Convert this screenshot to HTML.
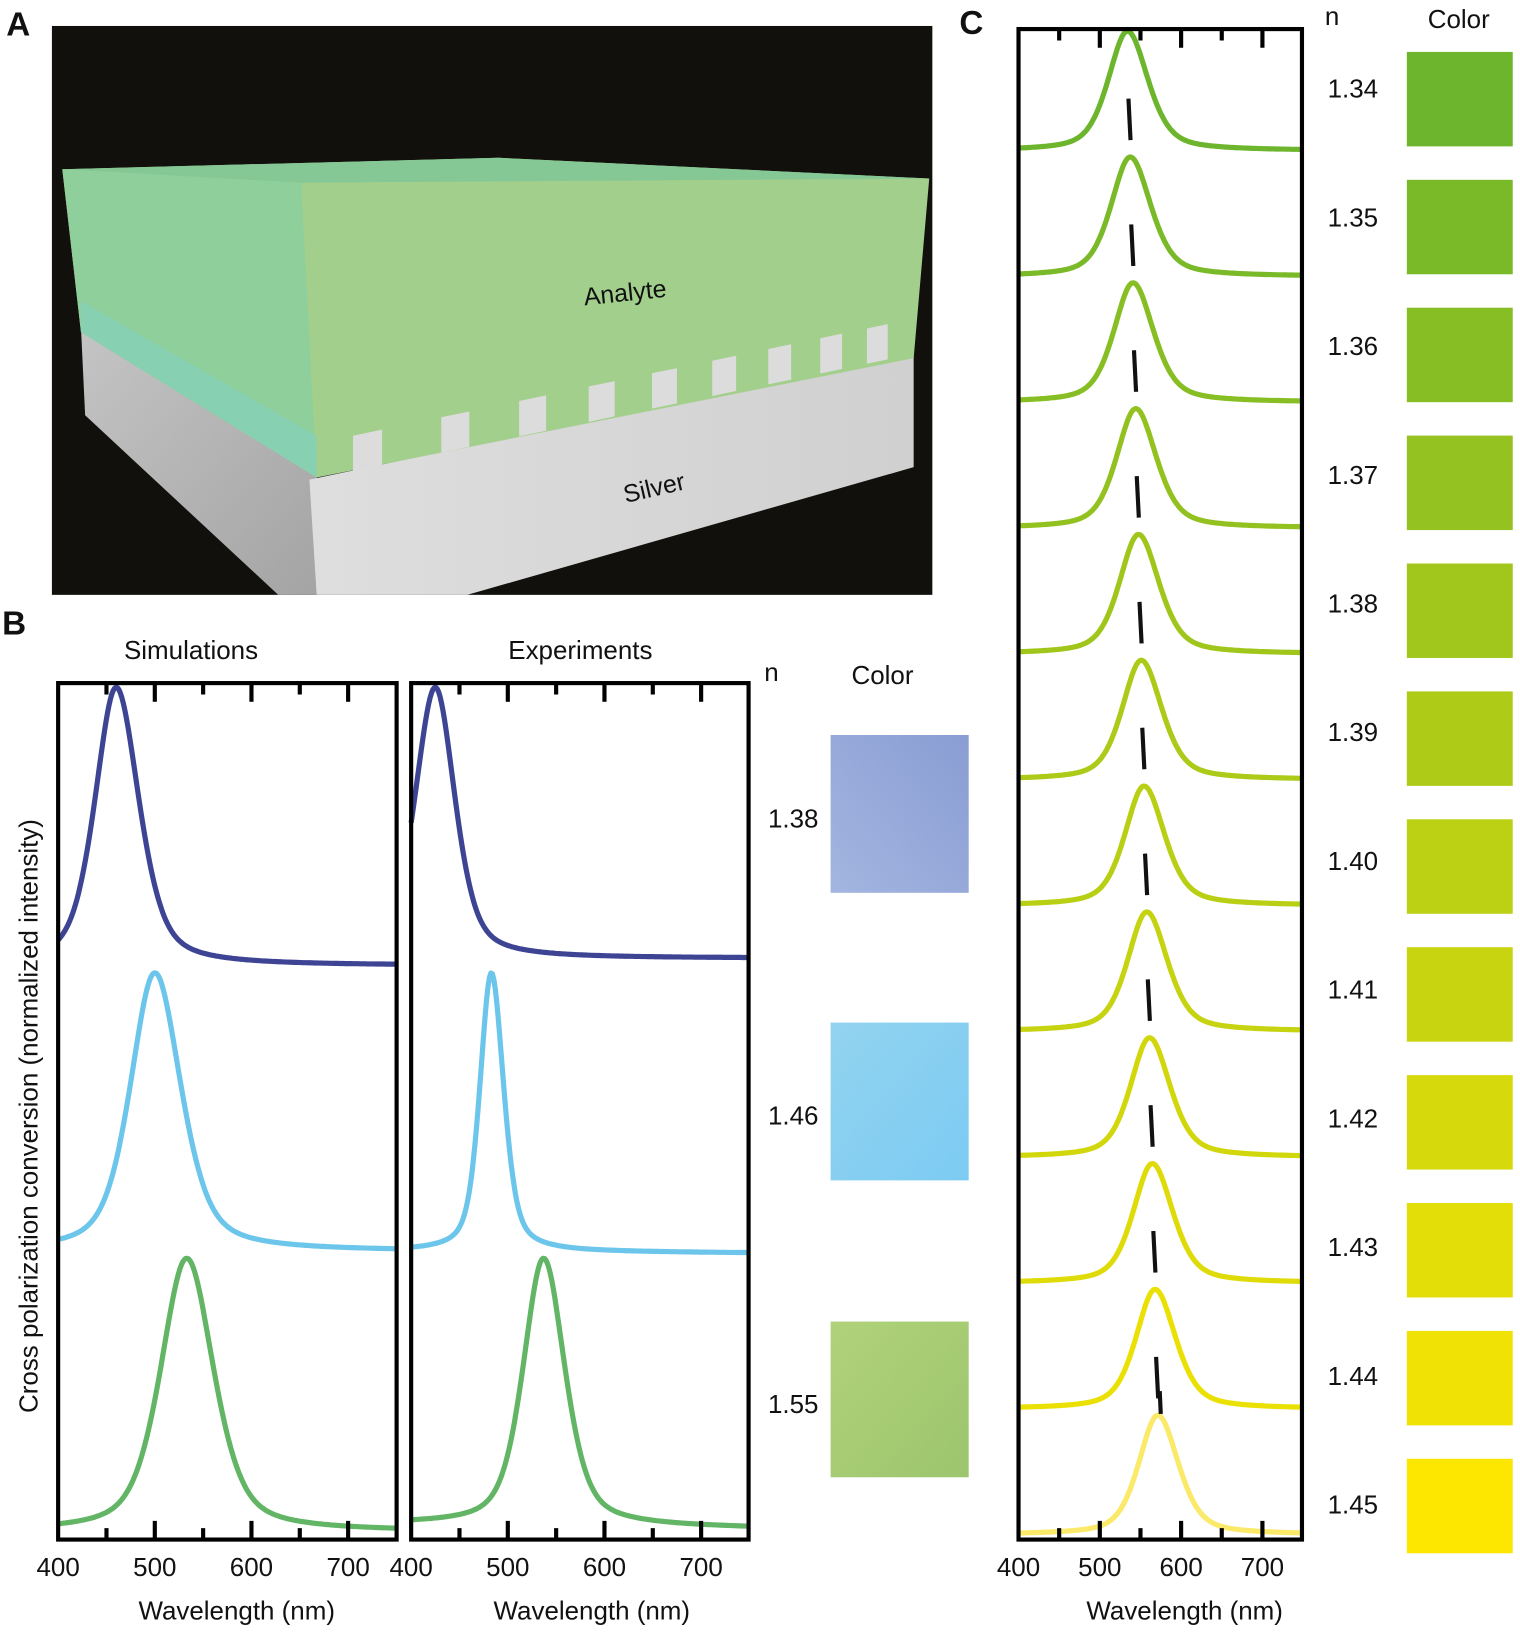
<!DOCTYPE html>
<html><head><meta charset="utf-8"><style>
html,body{margin:0;padding:0;background:#fff}
svg{display:block}
text{font-family:"Liberation Sans",Arial,sans-serif;fill:#111}
</style></head><body>
<svg id="s" width="1520" height="1633" viewBox="0 0 1464 1573" preserveAspectRatio="none" xmlns="http://www.w3.org/2000/svg">
<defs>
<linearGradient id="silL" x1="0" y1="0" x2="1" y2="1"><stop offset="0" stop-color="#c4c4c4"/><stop offset="1" stop-color="#a4a4a4"/></linearGradient>
<linearGradient id="silF" x1="0" y1="0" x2="1" y2="0"><stop offset="0" stop-color="#dedede"/><stop offset="1" stop-color="#d0d0d0"/></linearGradient>
<linearGradient id="bl" x1="0" y1="1" x2="1" y2="0"><stop offset="0" stop-color="#a3b5e0"/><stop offset="1" stop-color="#8a9dd3"/></linearGradient>
<linearGradient id="lb" x1="0" y1="0" x2="1" y2="1"><stop offset="0" stop-color="#92d3f0"/><stop offset="1" stop-color="#7ccbf2"/></linearGradient>
<linearGradient id="gr" x1="0" y1="0" x2="1" y2="1"><stop offset="0" stop-color="#b0d27a"/><stop offset="1" stop-color="#9cc56e"/></linearGradient>
</defs>
<rect x="50" y="25" width="848" height="548" fill="#12100c"/>
<polygon points="78,316 305,458 305,573 268,573 82,400" fill="url(#silL)"/>
<polygon points="298,462 880,340 880,450 450,573 305,573" fill="url(#silF)"/>
<polygon points="60,163 480,152 895,172 880,345 305,460 78,320" fill="#a2cf8c"/>
<polygon points="60,163 290,176 305,460 78,320" fill="#8fcf9c"/>
<polygon points="60,163 480,152 895,172 290,176" fill="#86c796"/>
<polygon points="78,290 305,420 305,460 78,320" fill="#86d0b8" opacity="0.8"/>
<g id="teeth" fill="#dcdcdc"></g>
<text x="602" y="290" font-size="24" text-anchor="middle" transform="rotate(-6 602 282)">Analyte</text>
<text x="630" y="478" font-size="24" text-anchor="middle" transform="rotate(-13 630 470)">Silver</text>
<text x="6" y="34" font-size="32" font-weight="bold">A</text>
<text x="2" y="611" font-size="32" font-weight="bold">B</text>
<text x="924" y="33" font-size="32" font-weight="bold">C</text>
<text x="184" y="635" font-size="25" text-anchor="middle">Simulations</text>
<text x="559" y="635" font-size="25" text-anchor="middle">Experiments</text>
<text x="743" y="656" font-size="25" text-anchor="middle">n</text>
<text x="850" y="659" font-size="25" text-anchor="middle">Color</text>
<text x="764" y="797" font-size="25" text-anchor="middle">1.38</text>
<text x="764" y="1083" font-size="25" text-anchor="middle">1.46</text>
<text x="764" y="1361" font-size="25" text-anchor="middle">1.55</text>
<rect x="800" y="708" width="133" height="152" fill="url(#bl)"/>
<rect x="800" y="985" width="133" height="152" fill="url(#lb)"/>
<rect x="800" y="1273" width="133" height="150" fill="url(#gr)"/>
<text transform="translate(36 1075) rotate(-90)" font-size="25" text-anchor="middle">Cross polarization conversion (normalized intensity)</text>
<text x="228" y="1560" font-size="25" text-anchor="middle">Wavelength (nm)</text>
<text x="570" y="1560" font-size="25" text-anchor="middle">Wavelength (nm)</text>
<text x="1141" y="1560" font-size="25" text-anchor="middle">Wavelength (nm)</text>
<text x="1283" y="24" font-size="25" text-anchor="middle">n</text>
<text x="1405" y="27" font-size="25" text-anchor="middle">Color</text>
<g id="g"></g>
</svg>
<script>
(function(){
var NS="http://www.w3.org/2000/svg",G=document.getElementById('g');
function el(t,a,p){var e=document.createElementNS(NS,t);for(var k in a)e.setAttribute(k,a[k]);(p||G).appendChild(e);return e;}
var T=document.getElementById('teeth');
[[340,28],[425,27],[500,26],[567,25],[628,24],[686,23],[740,22],[790,21],[835,20]].forEach(function(q){
 var x=q[0],w=q[1];var y0=461-(x-305)*120/575, y1=461-(x+w-305)*120/575;
 el('polygon',{points:x+','+y0+' '+x+','+(y0-34)+' '+(x+w)+','+(y1-34)+' '+(x+w)+','+y1},T);});
function curve(x0,px,ytop,l0,wl,wr,base0,base1,col,sw){
 var d='';for(var l=400;l<=750;l+=1.5){var ww=l<l0?wl:wr;var u=(l-l0)/ww;
  var I=0.5/(1+u*u)+0.5*Math.exp(-0.693*u*u);
  var b=base0+(base1-base0)*(l-400)/350;var y=b+(ytop-b)*I;var x=x0+(l-400)*px;d+=(l==400?'M':'L')+x.toFixed(1)+','+y.toFixed(1);}
 el('path',{d:d,fill:'none',stroke:col,'stroke-width':sw||5,'stroke-linejoin':'round'});}
function frame(x0,y0,x1,y1,px){
 el('rect',{x:x0,y:y0,width:x1-x0,height:y1-y0,fill:'none',stroke:'#000','stroke-width':4});
 for(var l=450;l<750;l+=50){var x=x0+(l-400)*px,L=(l%100==0)?18:11;
  el('line',{x1:x,y1:y0,x2:x,y2:y0+L,stroke:'#000','stroke-width':4});
  el('line',{x1:x,y1:y1,x2:x,y2:y1-L,stroke:'#000','stroke-width':4});}
 [400,500,600,700].forEach(function(l){var e=el('text',{x:x0+(l-400)*px,y:y1+35,'font-size':25,'text-anchor':'middle'});e.textContent=l;});}
var pb=0.931;
curve(56,pb,662,460,26,28,930,930,'#3d4494');
curve(56,pb,937,500,30,32,1205,1205,'#6cc5ea');
curve(56,pb,1212,533,32,33,1475,1475,'#62b565');
curve(396,pb,662,425,25,24,923,923,'#3d4494');
curve(396,pb,937,483,14,15,1205,1207,'#6cc5ea');
curve(396,pb,1212,537,25,26,1468,1472,'#62b565');
frame(56,658,382,1483,pb);frame(396,658,721,1483,pb);
var pc=0.783;
function mix(a,b,f){return 'rgb('+a.map(function(v,j){return Math.round(v+(b[j]-v)*f)}).join(',')+')';}
var c0=[109,181,44],c1=[248,228,0];
for(var i=0;i<12;i++){var f=i/11,yt=30+121.2*i,base=145+121.2*i,l0=534+3.4*i;
 var col=i==11?'#fbe96a':mix(c0,c1,f);
 curve(981,pc,yt,l0,28,30,base,base,col,5);
 el('rect',{x:1355,y:50+123.2*i,width:102,height:91,fill:mix(c0,[253,230,0],f)});
 var tx=el('text',{x:1303,y:94+124*i,'font-size':25,'text-anchor':'middle'});tx.textContent=(1.34+0.01*i).toFixed(2);
 if(i<11){var yc=115+121.2*i,xx=981+(l0+2.5-400)*pc;el('line',{x1:xx-1,y1:yc-20,x2:xx+1,y2:yc+20,stroke:'#111','stroke-width':4});}
}
el('line',{x1:1117,y1:1340,x2:1118,y2:1362,stroke:'#111','stroke-width':4});
frame(981,28,1254,1483,pc);
})();
</script>
</body></html>
